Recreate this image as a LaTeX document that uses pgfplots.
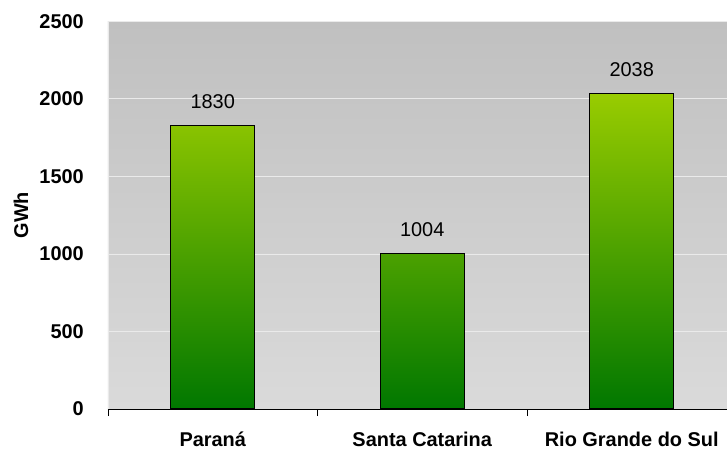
\documentclass[border=0pt]{standalone}
\usepackage{pgfplots}
\pgfplotsset{compat=1.18}
\usepackage{fontspec}
\setmainfont{Liberation Sans}
\definecolor{bartop}{HTML}{99CC00}
\definecolor{barbot}{HTML}{007700}
\definecolor{bgtop}{HTML}{C0C0C0}
\definecolor{bgbot}{HTML}{DADADA}
\definecolor{gridc}{HTML}{EAEAEA}
\begin{document}
\begin{tikzpicture}
\begin{axis}[
  name=ax,
  scale only axis,
  width=619bp, height=387.5bp,
  xmin=-0.5, xmax=2.4547,
  ymin=0, ymax=2500,
  ytick={0,500,1000,1500,2000,2500},
  xtick={-0.5,0.5,1.5},
  xticklabels={},
  extra x ticks={0,1,2},
  extra x tick labels={Paran\'a,Santa Catarina,Rio Grande do Sul},
  extra x tick style={major tick length=0pt, grid=none,
     tick label style={anchor=base, inner sep=0pt, yshift=-37bp}},
  axis x line*=bottom,
  axis y line*=left,
  x axis line style={draw=black, line width=0.8bp, -},
  y axis line style={draw=gridc, line width=0.8bp, -},
  x tick style={draw=black, line width=0.8bp},
  xtick pos=bottom,
  tick align=outside,
  major tick length=7bp,
  y tick style={draw=none},
  ymajorgrids,
  grid style={draw=gridc, line width=1bp},
  axis background/.style={top color=bgtop, bottom color=bgbot},
  tick label style={font=\bfseries\fontsize{20}{24}\selectfont},
  yticklabel style={anchor=east, inner sep=0pt, xshift=-17bp},
  /pgf/number format/assume math mode=true,
  scaled y ticks=false,
  yticklabel={\pgfmathprintnumber[fixed,set thousands separator={}]{\tick}},
  ylabel={GWh},
  every axis y label/.style={at={(axis description cs:-0.1405,0.5)}, anchor=center, rotate=90, font=\bfseries\fontsize{20}{24}\selectfont},
  ybar, bar width=84bp,
  nodes near coords,
  every node near coord/.append style={anchor=base, inner sep=0pt, yshift=16.5bp, font=\fontsize{20}{24}\selectfont, black},
  nodes near coords={\pgfmathprintnumber[fixed,set thousands separator={}]{\pgfplotspointmeta}},
]
\addplot[draw=black, line width=1.2bp, top color=bartop, bottom color=barbot] coordinates {(0,1830) (1,1004) (2,2038)};
\end{axis}
\pgfresetboundingbox
\path[use as bounding box] ([xshift=-108bp,yshift=-40bp]ax.south west) rectangle ([yshift=21.5bp]ax.north east);
\end{tikzpicture}
\end{document}
